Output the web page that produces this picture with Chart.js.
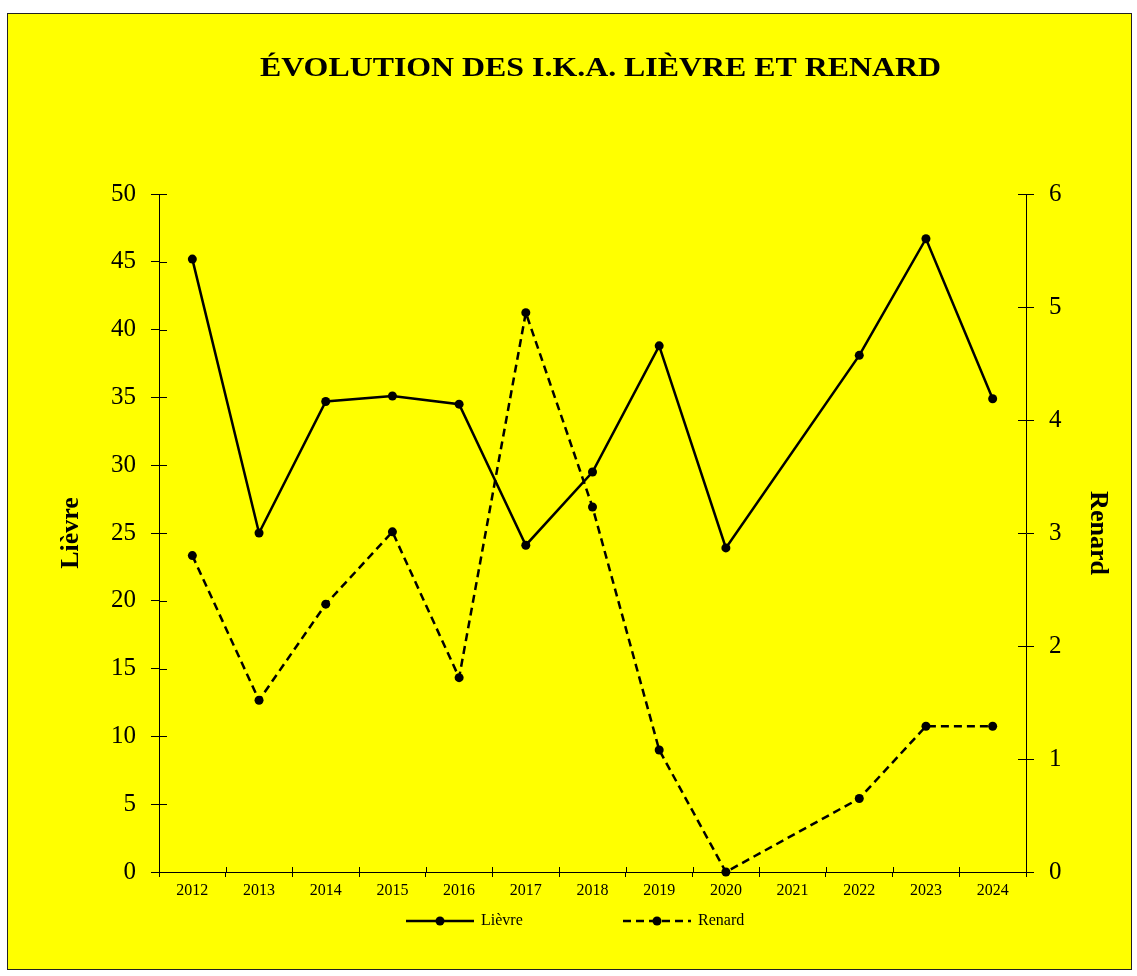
<!DOCTYPE html>
<html>
<head>
<meta charset="utf-8">
<title>I.K.A. Lièvre et Renard</title>
<script src="https://cdn.jsdelivr.net/npm/chart.js@4/dist/chart.umd.min.js"></script>
<style>
  body { margin: 0; background: #fff; }
  #box {
    position: absolute; left: 7px; top: 13px;
    width: 1123px; height: 955px;
    border: 1px solid #222; background: #ffff00;
  }
  canvas { display: block; }
</style>
</head>
<body>
<div id="box"><canvas id="ikaChart" width="1123" height="955"></canvas></div>
<script>
// Data
const years = ['2012', '2013', '2014', '2015', '2016', '2017', '2018', '2019', '2020', '2021', '2022', '2023', '2024'];
const lievreValues = [45.2, 25.0, 34.7, 35.1, 34.5, 24.1, 29.5, 38.8, 23.9, null, 38.1, 46.7, 34.9];
const renardValues = [2.80, 1.52, 2.37, 3.01, 1.72, 4.95, 3.23, 1.08, 0, null, 0.65, 1.29, 1.29];
const lievreAxis = [0, 50, 5];   // min, max, step
const renardAxis = [0, 6, 1];

const titleText = 'ÉVOLUTION DES I.K.A. LIÈVRE ET RENARD';

Chart.defaults.font.family = '"Liberation Serif", "Times New Roman", serif';
Chart.defaults.color = '#000';

// small tick marks that cross into the plot area
const innerTicks = {
  id: 'innerTicks',
  beforeDatasetsDraw(chart) {
    const {ctx, chartArea, scales} = chart;
    ctx.save();
    ctx.strokeStyle = '#000';
    ctx.lineWidth = 1;
    ctx.beginPath();
    scales.y.ticks.forEach(t => {
      const py = Math.round(scales.y.getPixelForValue(t.value)) + 0.5;
      ctx.moveTo(chartArea.left, py);
      ctx.lineTo(chartArea.left + 8, py);
    });
    scales.y1.ticks.forEach(t => {
      const py = Math.round(scales.y1.getPixelForValue(t.value)) + 0.5;
      ctx.moveTo(chartArea.right - 8, py);
      ctx.lineTo(chartArea.right, py);
    });
    const n = scales.x.ticks.length;
    for (let i = 0; i <= n; i++) {
      const px = Math.round(chartArea.left + i * chartArea.width / n) + 0.5;
      ctx.moveTo(px, chartArea.bottom);
      ctx.lineTo(px, chartArea.bottom - 5);
    }
    ctx.stroke();
    ctx.restore();
  }
};

// title + legend drawn like the original (line sample with a dot)
const decorations = {
  id: 'decorations',
  afterDraw(chart) {
    const ctx = chart.ctx;
    ctx.save();
    ctx.fillStyle = '#000';
    ctx.font = 'bold 27px "Liberation Serif"';
    const w = ctx.measureText(titleText).width;
    ctx.translate(592.5, 62);
    ctx.scale(681 / w, 1);
    ctx.textAlign = 'center';
    ctx.textBaseline = 'alphabetic';
    ctx.fillText(titleText, 0, 0);
    ctx.restore();

    const starts = [398, 615];
    const y = 907;
    chart.data.datasets.forEach((ds, i) => {
      const x0 = starts[i];
      ctx.save();
      ctx.strokeStyle = ds.borderColor;
      ctx.lineWidth = ds.borderWidth;
      ctx.setLineDash(ds.borderDash || []);
      ctx.beginPath();
      ctx.moveTo(x0, y);
      ctx.lineTo(x0 + 68, y);
      ctx.stroke();
      ctx.setLineDash([]);
      ctx.fillStyle = ds.pointBackgroundColor;
      ctx.beginPath();
      ctx.arc(x0 + 34, y, ds.pointRadius, 0, Math.PI * 2);
      ctx.fill();
      ctx.fillStyle = '#000';
      ctx.font = '16px "Liberation Serif"';
      ctx.textBaseline = 'middle';
      ctx.fillText(ds.label, x0 + 75, y);
      ctx.restore();
    });
  }
};

new Chart(document.getElementById('ikaChart'), {
  type: 'line',
  data: {
    labels: years,
    datasets: [{
      label: 'Lièvre',
      data: lievreValues,
      yAxisID: 'y',
      borderColor: '#000',
      borderWidth: 2.5,
      pointRadius: 4.5,
      pointBackgroundColor: '#000',
      pointBorderWidth: 0,
      tension: 0,
      spanGaps: true,
      clip: false
    }, {
      label: 'Renard',
      data: renardValues,
      yAxisID: 'y1',
      borderColor: '#000',
      borderWidth: 2.5,
      borderDash: [8, 5],
      pointRadius: 4.5,
      pointBackgroundColor: '#000',
      pointBorderWidth: 0,
      tension: 0,
      spanGaps: true,
      clip: false
    }]
  },
  options: {
    responsive: false,
    animation: false,
    devicePixelRatio: 1,
    layout: { padding: { top: 180, bottom: 67, left: 0, right: 0 } },
    plugins: {
      legend: { display: false },
      title: { display: false },
      tooltip: { enabled: false }
    },
    scales: {
      x: {
        offset: true,
        grid: { offset: true, drawOnChartArea: false, tickLength: 5, color: '#000' },
        border: { color: '#000' },
        ticks: { padding: 4, font: { size: 16 }, maxRotation: 0 },
        afterFit(scale) { scale.height = 30; }
      },
      y: {
        position: 'left',
        min: lievreAxis[0],
        max: lievreAxis[1],
        ticks: { stepSize: lievreAxis[2], padding: 15, font: { size: 25 } },
        grid: { drawOnChartArea: false, tickLength: 8, color: '#000' },
        border: { color: '#000' },
        title: {
          display: true, text: 'Lièvre',
          font: { size: 26, weight: 'bold' },
          padding: { top: 48, bottom: 0 }
        },
        afterFit(scale) { scale.width = 151; }
      },
      y1: {
        position: 'right',
        min: renardAxis[0],
        max: renardAxis[1],
        ticks: { stepSize: renardAxis[2], padding: 15, font: { size: 25 } },
        grid: { drawOnChartArea: false, tickLength: 8, color: '#000' },
        border: { color: '#000' },
        title: {
          display: true, text: 'Renard',
          font: { size: 26, weight: 'bold' },
          padding: { top: 18, bottom: 0 }
        },
        afterFit(scale) { scale.width = 105; }
      }
    }
  },
  plugins: [innerTicks, decorations]
});
</script>
</body>
</html>
